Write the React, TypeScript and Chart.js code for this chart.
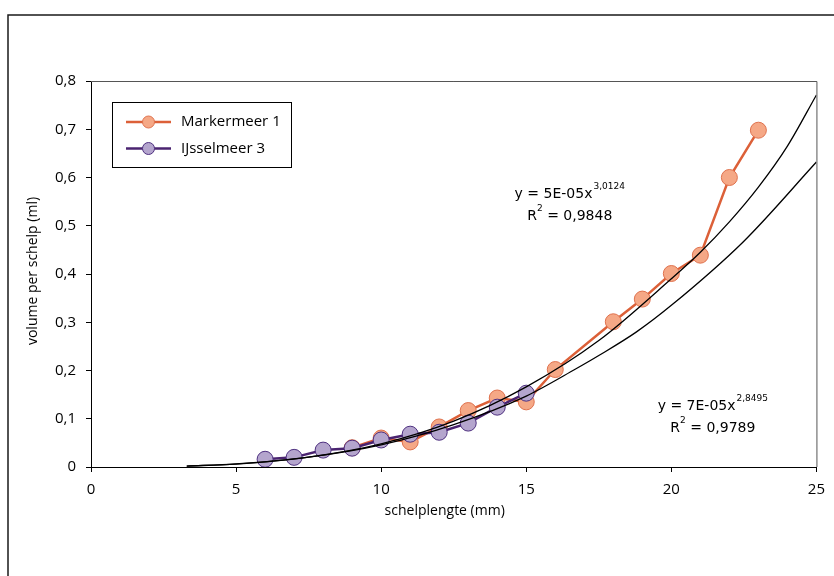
import React, { useEffect, useRef } from 'react';
import { Chart, registerables } from 'chart.js';

Chart.register(...registerables);

// Markermeer 1 (shell length mm, volume ml)
const markermeerLength = [9, 10, 11, 12, 13, 14, 15, 16, 18, 19, 20, 21, 22, 23];
const markermeerVolume = [0.04, 0.06, 0.052, 0.083, 0.117, 0.143, 0.135, 0.202, 0.301, 0.348, 0.401, 0.439, 0.6, 0.698];

// IJsselmeer 3
const ijsselmeerLength = [6, 7, 8, 9, 10, 11, 12, 13, 14, 15];
const ijsselmeerVolume = [0.016, 0.02, 0.035, 0.039, 0.056, 0.068, 0.072, 0.091, 0.124, 0.153];

// Trend lines
const trendUpperLength = [3.3, 5, 7.5, 10, 12.5, 15, 17.5, 20, 21, 22, 23, 24, 25];
const trendUpperVolume = [0.002, 0.006, 0.0205, 0.048, 0.095, 0.166, 0.262, 0.39, 0.445, 0.508, 0.58, 0.665, 0.771];
const trendLowerLength = [3.3, 5, 7.5, 10, 12.5, 15, 16.7, 17.5, 18.8, 20, 22.5, 25];
const trendLowerVolume = [0.002, 0.0065, 0.0205, 0.046, 0.088, 0.147, 0.203, 0.231, 0.28, 0.335, 0.468, 0.632];

const seriesNames = ['Markermeer 1', 'IJsselmeer 3'];
const xTickValues = [0, 5, 10, 15, 20, 25];
const yTickLabels = ['0', '0,1', '0,2', '0,3', '0,4', '0,5', '0,6', '0,7', '0,8'];

const upperEquation = { main: 'y = 5E-05x', exp: '3,0124', r2: '0,9848' };
const lowerEquation = { main: 'y = 7E-05x', exp: '2,8495', r2: '0,9789' };

const xTitle = 'schelplengte (mm)';
const yTitle = 'volume per schelp (ml)';

const orangeLine = '#dc6038';
const orangeFill = '#f5a886';
const orangeBorder = '#e0724e';
const purpleLine = '#4a2370';
const purpleFill = '#b4a5cd';
const purpleBorder = '#4e3080';

const toPts = (xs: number[], ys: number[]) => xs.map((x, i) => ({ x, y: ys[i] }));

const decor = {
  id: 'decor',
  beforeDraw(chart: any) {
    const { ctx, width, height } = chart;
    ctx.save();
    ctx.fillStyle = '#fff';
    ctx.fillRect(0, 0, width, height);
    ctx.restore();
  },
  afterDraw(chart: any) {
    const { ctx, chartArea, scales } = chart;
    const xs = scales.x;
    const ys = scales.y;
    ctx.save();
    // outer frame
    ctx.strokeStyle = '#1a1a1a';
    ctx.lineWidth = 1.5;
    ctx.strokeRect(8, 15, 900, 700);
    // plot frame top/right
    ctx.strokeStyle = '#555';
    ctx.lineWidth = 1;
    ctx.beginPath();
    ctx.moveTo(chartArea.left, chartArea.top + 0.5);
    ctx.lineTo(chartArea.right + 0.5, chartArea.top + 0.5);
    ctx.lineTo(chartArea.right + 0.5, chartArea.bottom);
    ctx.stroke();

    // axis titles
    ctx.fillStyle = '#000';
    ctx.font = '14px "Open Sans"';
    ctx.textAlign = 'center';
    ctx.textBaseline = 'middle';
    ctx.fillText(xTitle, (chartArea.left + chartArea.right) / 2 - 9, 511);
    ctx.save();
    ctx.translate(33, (chartArea.top + chartArea.bottom) / 2 - 3);
    ctx.rotate(-Math.PI / 2);
    ctx.fillText(yTitle, 0, 0);
    ctx.restore();

    // legend
    const lx = 112.5, ly = 102.5, lw = 179, lh = 65;
    ctx.fillStyle = '#fff';
    ctx.fillRect(lx, ly, lw, lh);
    ctx.strokeStyle = '#000';
    ctx.lineWidth = 1;
    ctx.strokeRect(lx, ly, lw, lh);
    const items = [
      { name: seriesNames[0], line: orangeLine, fill: orangeFill, border: orangeBorder, y: 122 },
      { name: seriesNames[1], line: purpleLine, fill: purpleFill, border: purpleBorder, y: 148.5 },
    ];
    items.forEach((it) => {
      ctx.strokeStyle = it.line;
      ctx.lineWidth = 2.5;
      ctx.beginPath();
      ctx.moveTo(126, it.y);
      ctx.lineTo(171, it.y);
      ctx.stroke();
      ctx.beginPath();
      ctx.arc(148.5, it.y, 6, 0, Math.PI * 2);
      ctx.fillStyle = it.fill;
      ctx.fill();
      ctx.strokeStyle = it.border;
      ctx.lineWidth = 1;
      ctx.stroke();
      ctx.fillStyle = '#000';
      ctx.font = '15px "Open Sans"';
      ctx.textAlign = 'left';
      ctx.textBaseline = 'middle';
      ctx.fillText(it.name, 181, it.y);
    });

    // equations
    const drawEq = (eq: any, cxVal: number, yVal1: number, yVal2: number) => {
      const cx = xs.getPixelForValue(cxVal);
      const b1 = ys.getPixelForValue(yVal1);
      const b2 = ys.getPixelForValue(yVal2);
      const big = '14px "DejaVu Sans"';
      const small = '9px "DejaVu Sans"';
      ctx.fillStyle = '#000';
      ctx.textBaseline = 'alphabetic';
      ctx.textAlign = 'left';
      ctx.font = big;
      const w1 = ctx.measureText(eq.main).width;
      ctx.font = small;
      const we = ctx.measureText(eq.exp).width;
      let x0 = cx - (w1 + we + 1) / 2;
      ctx.font = big;
      ctx.fillText(eq.main, x0, b1);
      ctx.font = small;
      ctx.fillText(eq.exp, x0 + w1 + 1, b1 - 9);
      // R2 line
      ctx.font = big;
      const wr = ctx.measureText('R').width;
      ctx.font = small;
      const w2 = ctx.measureText('2').width;
      ctx.font = big;
      const rest = ' = ' + eq.r2;
      const wrest = ctx.measureText(rest).width;
      x0 = cx - (wr + w2 + wrest) / 2;
      ctx.fillText('R', x0, b2);
      ctx.font = small;
      ctx.fillText('2', x0 + wr, b2 - 9);
      ctx.font = big;
      ctx.fillText(rest, x0 + wr + w2, b2);
    };
    drawEq(upperEquation, 16.5, 0.558, 0.512);
    drawEq(lowerEquation, 21.43, 0.118, 0.073);
    ctx.restore();
  },
};

export default function App() {
  const ref = useRef<HTMLCanvasElement>(null);
  useEffect(() => {
    const canvas = ref.current;
    if (!canvas) return;
    const chart = new Chart(canvas, {
      type: 'scatter',
      data: {
        datasets: [
          {
            label: seriesNames[0],
            data: toPts(markermeerLength, markermeerVolume),
            showLine: true,
            borderColor: orangeLine,
            borderWidth: 2.5,
            pointRadius: 8,
            pointBackgroundColor: orangeFill,
            pointBorderColor: orangeBorder,
            pointBorderWidth: 1,
            order: 3,
          },
          {
            label: seriesNames[1],
            data: toPts(ijsselmeerLength, ijsselmeerVolume),
            showLine: true,
            borderColor: purpleLine,
            borderWidth: 2.5,
            pointRadius: 8,
            pointBackgroundColor: purpleFill,
            pointBorderColor: purpleBorder,
            pointBorderWidth: 1,
            order: 2,
          },
          {
            label: 'trend upper',
            data: toPts(trendUpperLength, trendUpperVolume),
            showLine: true,
            borderColor: '#000',
            borderWidth: 1.3,
            pointRadius: 0,
            cubicInterpolationMode: 'monotone',
            order: 1,
          },
          {
            label: 'trend lower',
            data: toPts(trendLowerLength, trendLowerVolume),
            showLine: true,
            borderColor: '#000',
            borderWidth: 1.3,
            pointRadius: 0,
            cubicInterpolationMode: 'monotone',
            order: 1,
          },
        ] as any,
      },
      options: {
        animation: false,
        responsive: false,
        maintainAspectRatio: false,
        layout: { padding: { left: 0, right: 14, top: 81, bottom: 49 } },
        plugins: { legend: { display: false }, tooltip: { enabled: false } },
        scales: {
          x: {
            type: 'linear',
            min: 0,
            max: 25,
            afterFit: (s: any) => { s.height = 60; },
            afterBuildTicks: (s: any) => { s.ticks = xTickValues.map((v) => ({ value: v })); },
            ticks: {
              color: '#000',
              font: { family: '"Open Sans"', size: 15 },
              padding: 9,
              maxRotation: 0,
              callback: (v: any) => String(v),
            },
            grid: { drawOnChartArea: false, drawTicks: true, tickLength: 5, color: '#000' },
            border: { display: true, color: '#000', width: 1 },
          },
          y: {
            type: 'linear',
            min: 0,
            max: 0.8,
            afterFit: (s: any) => { s.width = 91; },
            afterBuildTicks: (s: any) => { s.ticks = yTickLabels.map((_, i) => ({ value: i / 10 })); },
            ticks: {
              color: '#000',
              font: { family: '"Open Sans"', size: 15 },
              padding: 10,
              callback: (_v: any, i: number) => yTickLabels[i],
            },
            grid: { drawOnChartArea: false, drawTicks: true, tickLength: 5, color: '#000' },
            border: { display: true, color: '#000', width: 1 },
          },
        },
      } as any,
      plugins: [decor],
    });
    return () => chart.destroy();
  }, []);
  return (
    <div style={{ position: 'absolute', left: 0, top: 0, width: 834, height: 576, background: '#fff', overflow: 'hidden' }}>
      <canvas ref={ref} width={834} height={576} style={{ display: 'block', width: 834, height: 576 }} />
    </div>
  );
}
